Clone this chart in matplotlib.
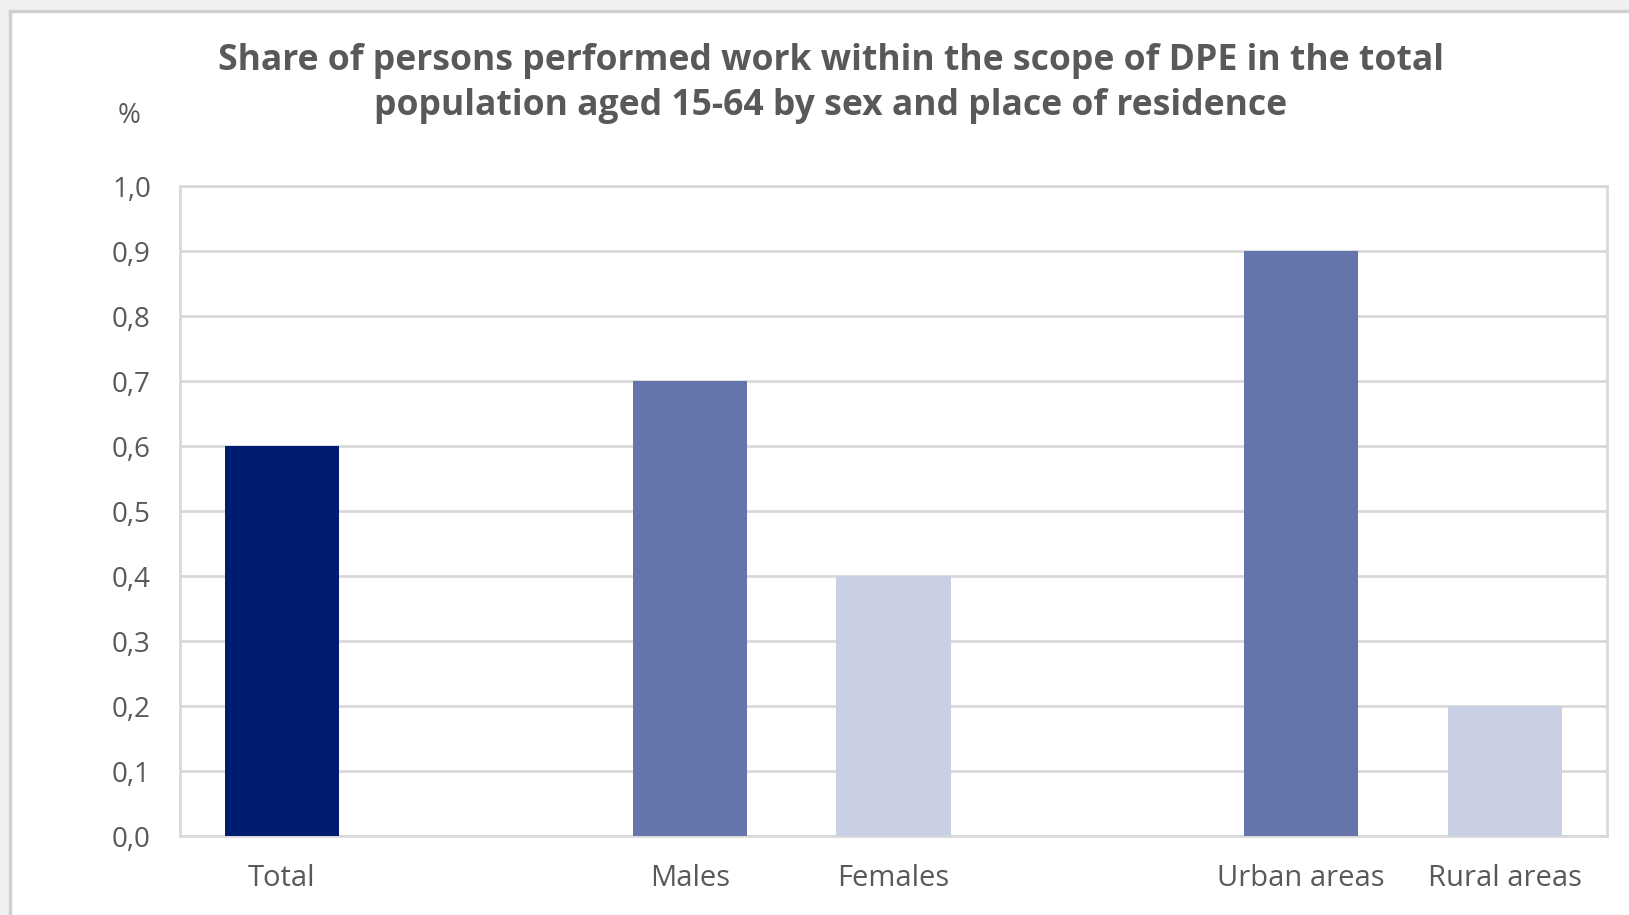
import matplotlib.pyplot as plt
from matplotlib.patches import Rectangle
from matplotlib.ticker import FuncFormatter, MultipleLocator

# chart data (Excel style category axis with two empty gaps)
categories = ["Total", "", "Males", "Females", "", "Urban areas", "Rural areas"]
values = [0.6, None, 0.7, 0.4, None, 0.9, 0.2]
colors = ["#001c71", None, "#6575ab", "#cad0e3", None, "#6575ab", "#cad0e3"]

title = ("Share of persons performed work within the scope of DPE in the total\n"
         "population aged 15-64 by sex and place of residence")

text_col = "#595959"
grid_col = "#d9d9d9"

fig = plt.figure(figsize=(16.29, 9.15), dpi=100)
fig.patch.set_facecolor("#f0f0f0")

# white chart panel, cut off at the right and bottom like the screenshot
panel = Rectangle((10 / 1629, -0.05), 1.1, 1.05 - 11 / 915,
                  transform=fig.transFigure, facecolor="white",
                  edgecolor="#d0d0d0", linewidth=2.5, zorder=-10)
fig.add_artist(panel)

ax = fig.add_axes([0.1105, 0.0863, 0.876, 0.7104])
ax.set_facecolor("white")

pos = [i for i, v in enumerate(values) if v is not None]
ax.bar(pos, [values[i] for i in pos], width=0.56,
       color=[colors[i] for i in pos], zorder=3)

ax.set_xlim(-0.5, len(categories) - 0.5)
ax.set_ylim(0, 1.0)
ax.yaxis.set_major_locator(MultipleLocator(0.1))
ax.yaxis.set_major_formatter(FuncFormatter(lambda v, _: f"{v:.1f}".replace(".", ",")))
ax.set_xticks(pos)
ax.set_xticklabels([categories[i] for i in pos])

ax.grid(axis="y", color=grid_col, linewidth=2, zorder=0)
for s in ax.spines.values():
    s.set_color(grid_col)
    s.set_linewidth(2)

ax.tick_params(length=0, labelcolor=text_col)
ax.tick_params(axis="y", pad=21, labelsize=20)
ax.tick_params(axis="x", pad=20, labelsize=21)
for lab in ax.get_xticklabels() + ax.get_yticklabels():
    lab.set_fontfamily("Open Sans")

fig.text(0.510, 0.9085, title, ha="center", va="center", fontsize=25.6,
         fontweight="bold", color=text_col, family="Open Sans", linespacing=1.33)
fig.text(0.079, 0.8735, "%", ha="center", va="center", fontsize=20,
         color=text_col, family="Open Sans")

fig.savefig("out.png", dpi=100, facecolor=fig.get_facecolor())
